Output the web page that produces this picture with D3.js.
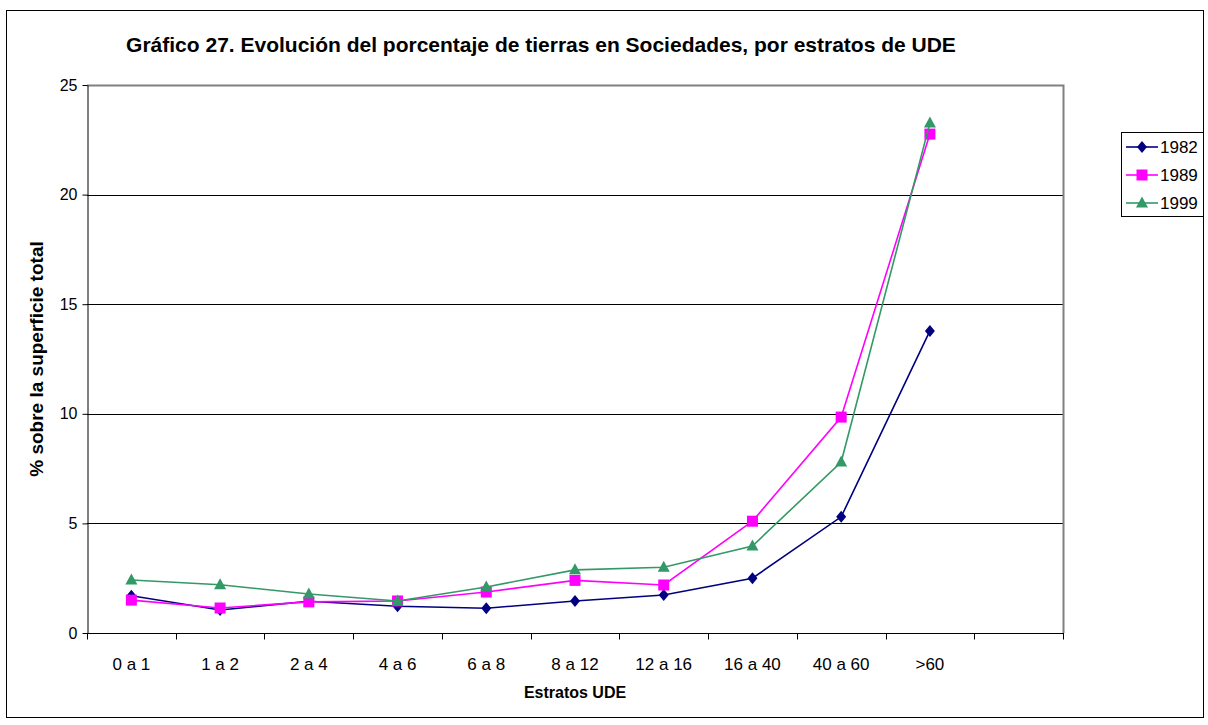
<!DOCTYPE html>
<html>
<head>
<meta charset="utf-8">
<script src="https://cdn.jsdelivr.net/npm/d3@7"></script>
<style>
  html, body { margin: 0; padding: 0; background: #fff; }
  svg { display: block; font-family: "Liberation Sans", Arial, sans-serif; }
</style>
</head>
<body>
<svg id="chart" width="1208" height="725"></svg>
<script>
// Categories (strata of UDE) and one extra empty slot at the end of the axis
const categories = ["0 a 1", "1 a 2", "2 a 4", "4 a 6", "6 a 8", "8 a 12", "12 a 16", "16 a 40", "40 a 60", ">60"];
const slots = categories.concat([""]);

// Percentage of total surface held by companies, by year
const v1982 = [1.7, 1.05, 1.45, 1.22, 1.13, 1.46, 1.73, 2.5, 5.3, 13.78];
const v1989 = [1.5, 1.14, 1.42, 1.46, 1.87, 2.4, 2.19, 5.1, 9.85, 22.76];
const v1999 = [2.42, 2.2, 1.78, 1.46, 2.1, 2.88, 3.0, 3.97, 7.8, 23.27];

const seriesNames = ["1982", "1989", "1999"];
const yTicks = [0, 5, 10, 15, 20, 25];

const series = [
  { name: seriesNames[0], values: v1982, color: "#000080", symbol: "diamond" },
  { name: seriesNames[1], values: v1989, color: "#FF00FF", symbol: "square" },
  { name: seriesNames[2], values: v1999, color: "#339966", symbol: "triangle" }
];

const svg = d3.select("#chart");

// Outer frame
svg.append("rect")
  .attr("x", 6.5).attr("y", 10.5)
  .attr("width", 1197).attr("height", 707)
  .attr("fill", "#fff").attr("stroke", "#000").attr("stroke-width", 1);

const plot = { left: 87, right: 1063, top: 85, bottom: 633 };

const x = d3.scaleBand().domain(slots).range([plot.left, plot.right]).paddingInner(0).paddingOuter(0);
const y = d3.scaleLinear().domain([0, 25]).range([plot.bottom, plot.top]);

// Title
svg.append("text")
  .attr("x", 541).attr("y", 52)
  .attr("text-anchor", "middle")
  .attr("font-size", "21px").attr("font-weight", "bold")
  .text("Gráfico 27. Evolución del porcentaje de tierras en Sociedades, por estratos de UDE");

// Horizontal gridlines
svg.append("g")
  .selectAll("line")
  .data(yTicks.filter(t => t > 0 && t < 25))
  .join("line")
  .attr("x1", plot.left).attr("x2", plot.right)
  .attr("y1", d => Math.round(y(d)) + 0.5).attr("y2", d => Math.round(y(d)) + 0.5)
  .attr("stroke", "#000").attr("stroke-width", 1);

// Plot border on top and right
svg.append("path")
  .attr("d", `M${plot.left},${plot.top + 0.5}H${plot.right + 0.5}V${plot.bottom}`)
  .attr("fill", "none").attr("stroke", "#808080").attr("stroke-width", 2);

// Y axis
const yAxis = svg.append("g")
  .attr("transform", `translate(${plot.left + 0.5},0)`)
  .call(d3.axisLeft(y).tickValues(yTicks).tickSize(5).tickSizeOuter(0).tickFormat(d3.format("d")));
yAxis.select(".domain").attr("stroke", "#000");
yAxis.selectAll(".tick line").attr("stroke", "#000");
yAxis.selectAll(".tick text")
  .attr("font-family", "Liberation Sans, Arial, sans-serif")
  .attr("font-size", "16px").attr("fill", "#000").attr("x", -10);

// X axis with ticks at slot boundaries
const xAxisG = svg.append("g")
  .attr("transform", `translate(0,${plot.bottom + 0.5})`);
xAxisG.append("line")
  .attr("x1", plot.left).attr("x2", plot.right + 1)
  .attr("stroke", "#000");
const boundaries = slots.map(s => x(s)).concat([plot.right]);
xAxisG.selectAll("line.tick")
  .data(boundaries)
  .join("line")
  .attr("class", "tick")
  .attr("x1", d => Math.round(d) + 0.5).attr("x2", d => Math.round(d) + 0.5)
  .attr("y1", 0).attr("y2", 6)
  .attr("stroke", "#000");
xAxisG.selectAll("text")
  .data(categories)
  .join("text")
  .attr("x", d => x(d) + x.bandwidth() / 2)
  .attr("y", 36)
  .attr("text-anchor", "middle")
  .attr("font-size", "17px")
  .text(d => d);

// Axis titles
svg.append("text")
  .attr("x", (plot.left + plot.right) / 2).attr("y", 698)
  .attr("text-anchor", "middle")
  .attr("font-size", "16px").attr("font-weight", "bold")
  .text("Estratos UDE");

svg.append("text")
  .attr("transform", `translate(43,${(plot.top + plot.bottom) / 2}) rotate(-90)`)
  .attr("text-anchor", "middle")
  .attr("font-size", "19px").attr("font-weight", "bold")
  .text("% sobre la superficie total");

// Marker shapes
function marker(sel, s) {
  if (s.symbol === "diamond") {
    sel.append("path").attr("d", "M0,-6L5,0L0,6L-5,0Z").attr("fill", s.color);
  } else if (s.symbol === "square") {
    sel.append("rect").attr("x", -5.5).attr("y", -5.5).attr("width", 11).attr("height", 11).attr("fill", s.color);
  } else {
    sel.append("path").attr("d", "M0,-6.5L6,4.5L-6,4.5Z").attr("fill", s.color);
  }
}

const line = d3.line()
  .x((d, i) => x(categories[i]) + x.bandwidth() / 2)
  .y(d => y(d));

series.forEach(s => {
  const g = svg.append("g");
  g.append("path")
    .attr("d", line(s.values))
    .attr("fill", "none").attr("stroke", s.color).attr("stroke-width", 1.6);
  s.values.forEach((v, i) => {
    const m = g.append("g")
      .attr("transform", `translate(${x(categories[i]) + x.bandwidth() / 2},${y(v)})`);
    marker(m, s);
  });
});

// Legend
const legend = svg.append("g");
legend.append("rect")
  .attr("x", 1121.5).attr("y", 132.5).attr("width", 82).attr("height", 84)
  .attr("fill", "#fff").attr("stroke", "#000");
series.forEach((s, i) => {
  const ly = 147 + i * 28;
  const lg = legend.append("g");
  lg.append("line")
    .attr("x1", 1126).attr("x2", 1158).attr("y1", ly).attr("y2", ly)
    .attr("stroke", s.color).attr("stroke-width", 1.6);
  const m = lg.append("g").attr("transform", `translate(1142,${ly})`);
  marker(m, s);
  lg.append("text")
    .attr("x", 1160).attr("y", ly + 6)
    .attr("font-size", "17px")
    .text(s.name);
});
</script>
</body>
</html>
